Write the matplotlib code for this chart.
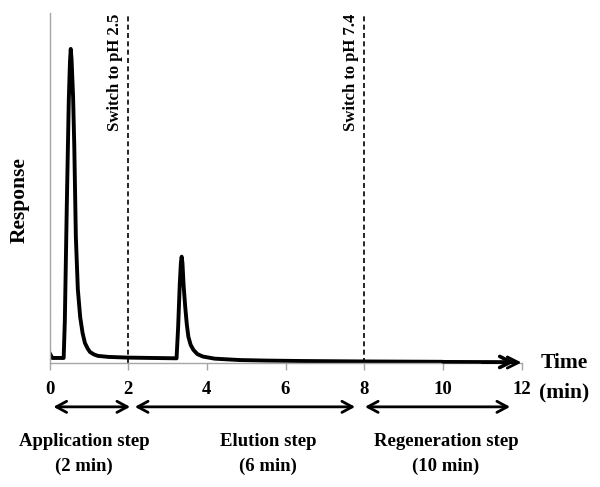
import matplotlib
matplotlib.use("Agg")
import matplotlib.pyplot as plt

plt.rcParams["font.family"] = ["Liberation Serif", "DejaVu Serif"]
plt.rcParams["font.weight"] = "bold"

# chromatogram (time in min, response in arbitrary units)
time_min = [0.00, 0.07, 0.36, 0.39, 0.44, 0.49, 0.52, 0.54, 0.56, 0.60, 0.63,
            0.67, 0.72, 0.78, 0.84, 0.90, 0.97, 1.03, 1.13, 1.23, 1.50, 2.00,
            2.60, 3.23, 3.27, 3.31, 3.34, 3.36, 3.38, 3.41, 3.45, 3.49, 3.53,
            3.59, 3.66, 3.76, 3.90, 4.20, 4.84, 5.50, 6.37, 8.00, 10.00, 11.83]
response = [2.8, 1.3, 1.3, 12.0, 45.0, 75.0, 86.0, 89.8, 87.0, 76.0, 62.0,
            36.0, 21.0, 13.0, 8.5, 5.6, 4.0, 3.0, 2.3, 1.9, 1.6, 1.4,
            1.3, 1.2, 10.0, 22.0, 28.5, 30.3, 28.5, 22.0, 16.0, 11.0, 7.4,
            5.0, 3.6, 2.4, 1.7, 1.1, 0.7, 0.55, 0.43, 0.3, 0.2, 0.14]

x_ticks = [0, 2, 4, 6, 8, 10, 12]
switch_times = [2, 8]
switch_labels = ["Switch to pH 2.5", "Switch to pH 7.4"]
steps = [("Application step", "(2 min)", 0.10, 2.05, 84),
         ("Elution step", "(6 min)", 2.17, 7.77, 268),
         ("Regeneration step", "(10 min)", 8.02, 11.71, 446)]

W, H = 600, 487
fig = plt.figure(figsize=(6.0, 4.87), dpi=100)
ax = fig.add_axes([49.5 / W, 1 - 362.5 / H, (521.5 - 49.5) / W, (362.5 - 13.3) / H])
ax.set_xlim(0, 12)
ax.set_ylim(0, 100)

ax.plot(time_min[:-1], response[:-1], color="black", lw=2.8,
        solid_joinstyle="round", solid_capstyle="round")
ax.annotate("", xy=(time_min[-1], response[-1]), xytext=(time_min[-2], response[-2]),
            arrowprops=dict(arrowstyle="->, head_length=0.4, head_width=0.2",
                            mutation_scale=20, lw=2.6, color="black",
                            shrinkA=0, shrinkB=0))
# axis arrow
ax.annotate("", xy=(12, 0), xytext=(11.0, 0), annotation_clip=False,
            arrowprops=dict(arrowstyle="->, head_length=0.4, head_width=0.2",
                            mutation_scale=20, lw=2.0, color="black",
                            shrinkA=0, shrinkB=0))

for t, lab in zip(switch_times, switch_labels):
    ax.axvline(t, color="black", lw=1.2, ls=(0, (3, 2)))
    ax.text(t - 0.34, 100, lab, rotation=90, ha="center", va="top",
            fontsize=12, fontweight="bold")

for sp in ["top", "right"]:
    ax.spines[sp].set_visible(False)
ax.spines["left"].set_color("#a6a6a6")
ax.spines["bottom"].set_color("#a6a6a6")
ax.spines["left"].set_linewidth(1.0)
ax.spines["bottom"].set_linewidth(1.0)

ax.set_yticks([])
ax.set_xticks(x_ticks)
ax.set_xticklabels([str(v) for v in x_ticks], fontsize=13.5, fontweight="bold")
ax.tick_params(axis="x", direction="out", length=5, width=1,
               color="#a6a6a6", pad=8)

# step arrows below the axis
for name, dur, x0, x1, cx in steps:
    ax.annotate("", xy=(x1, -12.7), xytext=(x0, -12.7), annotation_clip=False,
                arrowprops=dict(arrowstyle="<->, head_length=0.37, head_width=0.2",
                                mutation_scale=20, lw=2.0, color="black",
                                shrinkA=0, shrinkB=0))
    fig.text(cx / W, 1 - 442 / H, name, ha="center", va="center",
             fontsize=13.5, fontweight="bold")
    fig.text(cx / W, 1 - 466 / H, dur, ha="center", va="center",
             fontsize=13.5, fontweight="bold")

fig.text(19.5 / W, 1 - 200 / H, "Response", rotation=90, ha="center",
         va="center", fontsize=15.5, fontweight="bold")
fig.text(564.5 / W, 1 - 363 / H, "Time", ha="center", va="center",
         fontsize=15.5, fontweight="bold")
fig.text(564 / W, 1 - 392 / H, "(min)", ha="center", va="center",
         fontsize=15.5, fontweight="bold")

fig.savefig("out.png", dpi=100)
